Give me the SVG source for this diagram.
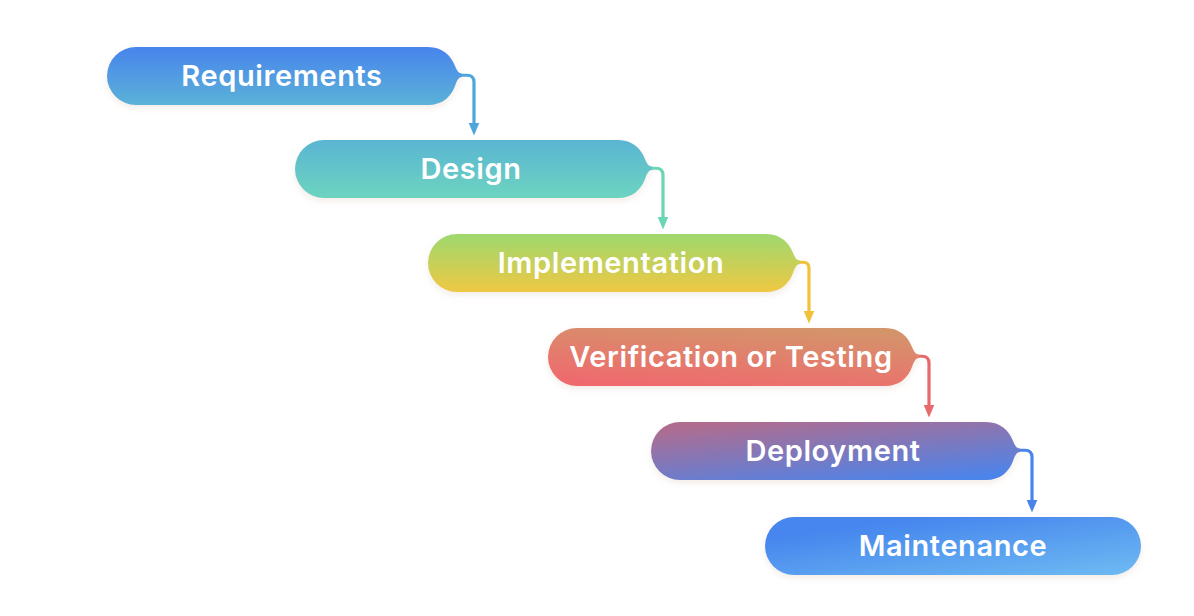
<svg xmlns="http://www.w3.org/2000/svg" width="1194" height="616" viewBox="0 0 1194 616">
  <style>
    .lbl { font-family: Inter, "DejaVu Sans", sans-serif; font-weight: 600; font-size: 29px; letter-spacing: 0.6px; fill: #ffffff; text-anchor: middle; }
    .node { filter: url(#shadow); }
    .conn { fill: none; stroke-width: 3.2; stroke-linecap: butt; stroke-linejoin: round; }
  </style>
  <defs>
    <filter id="shadow" x="-10%" y="-30%" width="120%" height="170%">
      <feDropShadow dx="0" dy="3" stdDeviation="3" flood-color="#c8a890" flood-opacity="0.22"/>
    </filter>
    <linearGradient id="g1" x1="0" y1="0" x2="0" y2="1">
      <stop offset="0" stop-color="#4884ec"/>
      <stop offset="1" stop-color="#5bb2d8"/>
    </linearGradient>
    <linearGradient id="g2" x1="0" y1="0" x2="0" y2="1">
      <stop offset="0" stop-color="#5ab5d2"/>
      <stop offset="1" stop-color="#6dd4c0"/>
    </linearGradient>
    <linearGradient id="g3" x1="0" y1="0" x2="0" y2="1">
      <stop offset="0" stop-color="#9ed86e"/>
      <stop offset="1" stop-color="#efc843"/>
    </linearGradient>
    <linearGradient id="g4" x1="0.3" y1="1" x2="0.7" y2="0">
      <stop offset="0" stop-color="#ef6a6e"/>
      <stop offset="1" stop-color="#d4946b"/>
    </linearGradient>
    <linearGradient id="g5" x1="0.2" y1="0" x2="0.8" y2="1">
      <stop offset="0" stop-color="#b06c8f"/>
      <stop offset="1" stop-color="#4c84ea"/>
    </linearGradient>
    <linearGradient id="g6" x1="0.2" y1="0.2" x2="0.9" y2="1">
      <stop offset="0" stop-color="#4686ee"/>
      <stop offset="1" stop-color="#6cb8f2"/>
    </linearGradient>
    <marker id="a1" markerUnits="userSpaceOnUse" markerWidth="14" markerHeight="12" refX="0.5" refY="5.5" orient="auto"><path d="M0,0 L13,5.5 L0,11 Z" fill="#4fa6da"/></marker>
    <marker id="a2" markerUnits="userSpaceOnUse" markerWidth="14" markerHeight="12" refX="0.5" refY="5.5" orient="auto"><path d="M0,0 L13,5.5 L0,11 Z" fill="#6ad6b6"/></marker>
    <marker id="a3" markerUnits="userSpaceOnUse" markerWidth="14" markerHeight="12" refX="0.5" refY="5.5" orient="auto"><path d="M0,0 L13,5.5 L0,11 Z" fill="#f1c13a"/></marker>
    <marker id="a4" markerUnits="userSpaceOnUse" markerWidth="14" markerHeight="12" refX="0.5" refY="5.5" orient="auto"><path d="M0,0 L13,5.5 L0,11 Z" fill="#e8696b"/></marker>
    <marker id="a5" markerUnits="userSpaceOnUse" markerWidth="14" markerHeight="12" refX="0.5" refY="5.5" orient="auto"><path d="M0,0 L13,5.5 L0,11 Z" fill="#4a84ea"/></marker>
  </defs>

  <rect width="1194" height="616" fill="#ffffff"/>

  <g id="connectors">
    <path class="conn" stroke="#4fa6da" marker-end="url(#a1)" d="M460,75.25 H467 Q474,75.25 474,82.25 V123"/>
    <path class="conn" stroke="#6ad6b6" marker-end="url(#a2)" d="M650,168.25 H656 Q663,168.25 663,175.25 V217"/>
    <path class="conn" stroke="#f1c13a" marker-end="url(#a3)" d="M798,262.25 H803 Q809,262.25 809,268.25 V311"/>
    <path class="conn" stroke="#e8696b" marker-end="url(#a4)" d="M917,356.25 H922 Q929,356.25 929,363.25 V405"/>
    <path class="conn" stroke="#4a84ea" marker-end="url(#a5)" d="M1018,450.25 H1025 Q1032,450.25 1032,457.25 V500"/>
  </g>

  <g id="node-requirements">
    <path class="node" fill="url(#g1)" d="M136,47 H428 C443,47 451,56 455,66 C457,71 459,73.5 462,73.5 V77 C459,77 457,80 455,86 C451,97 442,105 428,105 H136 A29,29 0 0 1 136,47 Z"/>
    <text class="lbl" x="282" y="86">Requirements</text>
  </g>
  <g id="node-design">
    <path class="node" fill="url(#g2)" d="M324,140 H618 C633,140 641,149 645,159 C647,164 649,166.5 652,166.5 V170 C649,170 647,173 645,179 C641,190 632,198 618,198 H324 A29,29 0 0 1 324,140 Z"/>
    <text class="lbl" x="471" y="179">Design</text>
  </g>
  <g id="node-implementation">
    <path class="node" fill="url(#g3)" d="M457,234 H766 C781,234 789,243 793,253 C795,258 797,260.5 800,260.5 V264 C797,264 795,267 793,273 C789,284 780,292 766,292 H457 A29,29 0 0 1 457,234 Z"/>
    <text class="lbl" x="611" y="273">Implementation</text>
  </g>
  <g id="node-verification">
    <path class="node" fill="url(#g4)" d="M577,328 H885 C900,328 908,337 912,347 C914,352 916,354.5 919,354.5 V358 C916,358 914,361 912,367 C908,378 899,386 885,386 H577 A29,29 0 0 1 577,328 Z"/>
    <text class="lbl" x="731" y="367">Verification or Testing</text>
  </g>
  <g id="node-deployment">
    <path class="node" fill="url(#g5)" d="M680,422 H986 C1001,422 1009,431 1013,441 C1015,446 1017,448.5 1020,448.5 V452 C1017,452 1015,455 1013,461 C1009,472 1000,480 986,480 H680 A29,29 0 0 1 680,422 Z"/>
    <text class="lbl" x="833" y="461">Deployment</text>
  </g>
  <g id="node-maintenance">
    <rect class="node" fill="url(#g6)" x="765" y="517" width="376" height="58" rx="29" ry="29"/>
    <text class="lbl" x="953" y="556">Maintenance</text>
  </g>
</svg>
